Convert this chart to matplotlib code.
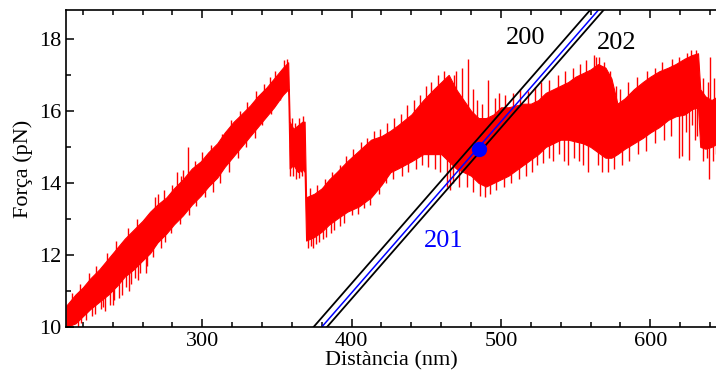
import numpy as np
import matplotlib.pyplot as plt

plt.rcParams['font.family'] = ['Liberation Serif', 'DejaVu Serif']

# red trace, read as lower / upper edge of the noisy band (nm, pN)
dist = [209, 215, 220, 225, 231, 237, 243, 248, 254, 260, 265, 270, 276, 281, 287,
        293, 299, 304, 310, 315, 321, 326, 332, 337, 343, 348, 354, 357.5,
        358.5, 361, 364, 367, 368.5,
        369.5, 375, 380, 385, 390, 397, 405, 413, 420, 426, 431, 440, 448, 455, 460,
        465, 470, 475, 480, 485, 490, 495, 500, 505, 510, 515, 520, 525, 530, 535,
        540, 545, 550, 555, 560, 565, 570, 574, 578, 583, 589, 595, 600, 606, 612,
        617, 623, 628, 632, 633.5, 637, 641, 645]
f_low = [10.0, 10.1, 10.3, 10.5, 10.7, 10.9, 11.15, 11.4, 11.6, 11.85, 12.05, 12.35, 12.6, 12.85, 13.1,
         13.4, 13.65, 13.9, 14.15, 14.45, 14.75, 15.0, 15.3, 15.55, 15.85, 16.1, 16.45, 16.6,
         14.4, 14.5, 14.3, 14.4, 14.3,
         12.4, 12.5, 12.65, 12.85, 13.0, 13.2, 13.35, 13.6, 13.95, 14.3, 14.4, 14.6, 14.8, 14.8, 14.8,
         14.6, 14.4, 14.3, 14.2, 14.0, 13.9, 14.0, 14.1, 14.2, 14.35, 14.5, 14.65, 14.8, 15.0, 15.1,
         15.2, 15.2, 15.15, 15.1, 15.0, 14.85, 14.7, 14.7, 14.8, 14.95, 15.1, 15.25, 15.4, 15.55, 15.75,
         15.85, 15.9, 16.05, 16.1, 15.0, 14.95, 15.0, 15.1]
f_high = [10.6, 10.9, 11.1, 11.35, 11.6, 11.9, 12.2, 12.45, 12.7, 12.95, 13.2, 13.4, 13.6, 13.85, 14.1,
          14.4, 14.6, 14.85, 15.1, 15.4, 15.7, 15.9, 16.15, 16.4, 16.65, 16.9, 17.2, 17.35,
          15.7, 15.5, 15.6, 15.7, 15.7,
          13.6, 13.7, 13.85, 14.1, 14.3, 14.6, 14.9, 15.2, 15.3, 15.45, 15.6, 15.9, 16.3, 16.6, 16.8,
          17.0, 16.6, 16.3, 16.0, 15.8, 15.8, 15.9, 16.1, 16.1, 16.15, 16.2, 16.2, 16.3, 16.5, 16.6,
          16.7, 16.8, 16.95, 17.05, 17.15, 17.3, 17.2, 16.9, 16.2, 16.35, 16.6, 16.8, 16.95, 17.1, 17.2,
          17.3, 17.45, 17.55, 17.6, 16.6, 16.4, 16.3, 16.4]

# spikes sticking out of the band: position and tip (pN)
spike_x = [219, 226, 232, 235, 240, 244, 246, 251, 257, 262, 268, 270, 283, 287, 290.5,
           350.5, 352, 359, 363, 366, 371, 374, 376, 383, 388,
           464, 466, 470, 474, 478, 489, 491, 521, 535, 545, 558, 562, 566,
           619, 621, 626, 630, 639.5, 640, 644,
           # lower fringe, first ramp
           217, 222, 228, 233.5, 238, 241, 249, 252, 255, 258, 263, 267, 272, 275, 279,
           285, 291, 296, 302, 307, 312, 318, 324, 329, 335, 340, 346,
           # upper fringe, first ramp
           213, 218, 224, 229, 236, 242, 250, 256, 274, 279.5, 285.5, 295, 300, 306,
           313, 319, 325, 330, 336, 341, 345, 349, 355, 356.5,
           # plateau
           360, 362, 365, 367.5, 360.5, 364.5, 367,
           # second ramp
           372.5, 378, 381, 386, 392, 395, 400, 404, 408, 412, 418, 423, 428, 434, 438,
           443, 447, 451, 456, 459,
           372, 377, 382, 387, 392.5, 396, 401, 406, 410, 415, 419, 423.5, 428.5, 433,
           437, 442, 446, 450, 453, 458, 462,
           # third part
           468, 472, 477, 481, 486, 493, 497, 502, 507, 512, 517, 524, 528, 532, 539,
           542, 549, 552, 555, 565, 568, 572, 576, 581, 586, 592, 597, 603, 609, 614,
           624, 628, 631,
           468.5, 481.5, 484, 487, 496, 499, 503, 508, 513, 518, 523, 527, 532.5, 538,
           543, 548, 553, 557, 564, 569, 573, 577, 580, 585, 591, 597.5, 603.5, 608,
           614.5, 619.5, 624.5, 627, 630.5,
           635, 638, 642, 635.5, 638.5, 643]
spike_tip = [10.1, 10.3, 10.5, 10.45, 10.6, 10.8, 10.9, 11.0, 11.3, 11.5, 13.6, 13.7, 14.3, 14.35, 15.0,
             16.4, 16.3, 14.2, 14.1, 14.3, 12.2, 12.2, 12.3, 12.5, 12.7,
             13.9, 13.8, 17.1, 17.2, 17.45, 13.6, 16.85, 14.3, 14.6, 14.5, 14.3, 17.55, 17.5,
             14.7, 14.75, 14.65, 15.2, 14.1, 17.5, 14.8,
             10.0, 10.2, 10.35, 10.55, 10.6, 10.75, 11.1, 11.2, 11.35, 11.5, 11.7, 11.95, 12.2, 12.35, 12.6,
             12.85, 13.1, 13.35, 13.6, 13.75, 14.0, 14.3, 14.7, 15.0, 15.25, 15.6, 15.9,
             10.95, 11.2, 11.5, 11.7, 12.05, 12.4, 12.75, 13.0, 13.8, 13.95, 14.2, 14.6, 14.85, 15.05,
             15.35, 15.75, 16.0, 16.25, 16.55, 16.75, 16.95, 17.1, 17.4, 17.45,
             15.8, 15.65, 15.8, 15.85, 14.2, 14.15, 14.2,
             12.25, 12.35, 12.45, 12.6, 12.8, 12.9, 13.1, 13.15, 13.3, 13.4, 13.7, 14.0, 14.1, 14.2, 14.3,
             14.4, 14.5, 14.45, 14.4, 14.3,
             13.85, 13.95, 14.1, 14.3, 14.5, 14.75, 14.95, 15.15, 15.25, 15.45, 15.5, 15.65, 15.8, 15.9,
             16.15, 16.3, 16.45, 16.7, 16.8, 17.0, 17.1,
             14.0, 13.9, 13.9, 13.75, 13.65, 13.7, 13.8, 13.9, 14.0, 14.1, 14.2, 14.5, 14.55, 14.7, 14.8,
             14.6, 14.7, 14.6, 14.5, 14.5, 14.3, 14.3, 14.4, 14.5, 14.6, 14.8, 14.9, 15.1, 15.2, 15.3,
             15.4, 15.6, 15.3,
             17.0, 16.6, 16.3, 16.2, 16.35, 16.5, 16.45, 16.5, 16.6, 16.55, 16.65, 16.8, 16.85, 17.0,
             17.1, 17.2, 17.3, 17.4, 17.5, 17.35, 17.1, 16.7, 16.6, 16.8, 16.95, 17.1, 17.2, 17.35,
             17.45, 17.5, 17.6, 17.7, 17.7,
             14.6, 14.7, 14.6, 16.9, 16.8, 16.9]

# contour lines 200 / 201 / 202: slope and crossing of F = 10 pN
line_names = ['200', '201', '202']
line_x0 = [374.5, 380.0, 383.5]
line_slope = 0.0475
line_colors = ['black', 'blue', 'black']
label_pos = [(516.7, 18.03), (461.7, 12.39), (577.8, 17.89)]

dot_x, dot_y = 485.5, 14.93

fig = plt.figure(figsize=(7.16, 3.72), dpi=100)
ax = fig.add_axes([0.0922, 0.121, 0.9098, 0.852])

ax.fill_between(dist, f_low, f_high, color='red', lw=0.8)
mid = np.interp(spike_x, dist, (np.array(f_low) + np.array(f_high)) / 2)
ax.vlines(spike_x, mid, spike_tip, color='red', lw=1.0)

F = np.array([10.0, 19.0])
for name, x0, c, (lx, ly) in zip(line_names, line_x0, line_colors, label_pos):
    ax.plot(x0 + (F - 10) / line_slope, F, color=c, lw=1.3 if c == 'black' else 1.1)
    ax.text(lx, ly, name, color=c, fontsize=19, ha='center', va='center')

ax.plot(dot_x, dot_y, 'o', color='blue', ms=10)

ax.set_xlim(208.7, 645)
ax.set_ylim(10, 18.8)
ax.set_xticks([300, 400, 500, 600])
ax.set_xticks(np.arange(220, 645, 20), minor=True)
ax.set_yticks([10, 12, 14, 16, 18])
ax.set_yticks(np.arange(11, 18.8, 1), minor=True)
ax.tick_params(which='both', direction='in', top=True, right=False, labelsize=16, width=1.1)
ax.tick_params(which='major', length=6)
ax.tick_params(which='minor', length=3.5)
for s in ax.spines.values():
    s.set_linewidth(1.2)

ax.set_xlabel('Distància (nm)', fontsize=16, labelpad=0)
ax.set_ylabel('Força (pN)', fontsize=16, labelpad=4)

fig.savefig('out.png', dpi=100)
